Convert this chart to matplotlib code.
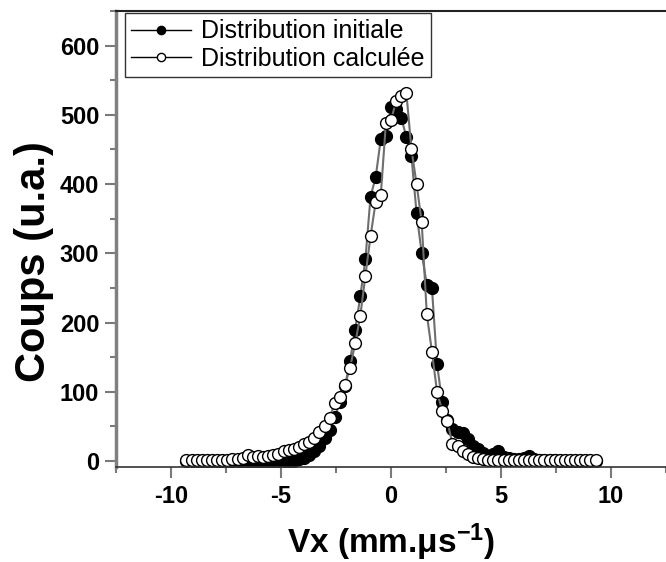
import matplotlib
matplotlib.use("Agg")
import matplotlib.pyplot as plt
import numpy as np

# velocity grid (mm/us), same for both distributions
vx = np.round(-9.3 + 0.2325 * np.arange(81), 4)

# counts, one value per grid point
initiale = [0, 0, 0, 0, 0, 0, 0, 0, 0, 0,
            0, 0, 0, 0, 0, 0, 0, 0, 0, 0,
            0, 0, 3, 5, 9, 15, 22, 33, 45, 63,
            85, 108, 145, 190, 238, 292, 382, 410, 465, 470,
            511, 508, 496, 468, 440, 358, 300, 255, 250, 140,
            85, 60, 47, 42, 40, 32, 22, 18, 12, 8,
            10, 14, 6, 4, 3, 3, 5, 8, 3, 2,
            1, 1, 1, 0, 0, 0, 0, 0, 0, 0, 0]

calculee = [1, 1, 1, 1, 1, 1, 1, 2, 2, 3,
            3, 4, 9, 6, 8, 6, 7, 9, 10, 14,
            16, 18, 20, 24, 27, 34, 42, 50, 62, 84,
            93, 110, 135, 170, 210, 268, 325, 374, 384, 488,
            492, 520, 527, 532, 450, 400, 345, 212, 158, 100,
            73, 58, 25, 22, 15, 10, 6, 4, 3, 2,
            2, 1, 1, 1, 1, 1, 1, 1, 1, 1,
            1, 1, 1, 1, 1, 1, 1, 1, 1, 1, 1]

plt.rcParams['font.family'] = ['Liberation Sans', 'DejaVu Sans']
plt.rcParams['axes.unicode_minus'] = False
plt.rcParams['mathtext.fontset'] = 'custom'
plt.rcParams['mathtext.rm'] = 'Liberation Sans:bold'
plt.rcParams['mathtext.it'] = 'Liberation Sans:bold'
plt.rcParams['mathtext.bf'] = 'Liberation Sans:bold'

fig = plt.figure(figsize=(6.66, 5.62), dpi=100)
ax = fig.add_axes([0.1742, 0.169, 0.8258, 0.8114])

ax.plot(vx, initiale, '-o', color='#6e6e6e', lw=1.5, ms=8.5,
        mfc='black', mec='black', mew=1, label='Distribution initiale')
ax.plot(vx, calculee, '-o', color='#6e6e6e', lw=1.5, ms=8.5,
        mfc='white', mec='black', mew=1, label='Distribution calculée')

ax.set_xlim(-12.48, 12.13)
ax.set_ylim(-8.6, 645.6)
ax.set_xticks([-10, -5, 0, 5, 10])
ax.set_xticks(np.arange(-12.5, 12.6, 2.5), minor=True)
ax.set_yticks(np.arange(0, 601, 100))
ax.set_yticks(np.arange(50, 651, 100), minor=True)

ax.tick_params(which='major', direction='out', length=8, width=1.5,
               color='#7a7a7a', labelsize=17, pad=4)
ax.tick_params(which='minor', direction='out', length=4, width=1.5,
               color='#7a7a7a')
ax.tick_params(axis='x', which='major', pad=5)
for lab in ax.get_xticklabels() + ax.get_yticklabels():
    lab.set_fontweight('bold')

ax.spines['right'].set_visible(False)
ax.spines['left'].set_color('#808080')
ax.spines['left'].set_linewidth(2.5)
ax.spines['bottom'].set_color('#333333')
ax.spines['bottom'].set_linewidth(1.2)
ax.spines['top'].set_color('#222222')
ax.spines['top'].set_linewidth(1.5)

ax.set_xlabel(r'Vx (mm.$\mu$s$^{-1}$)', fontsize=24,
              fontweight='bold', labelpad=10)
ax.set_ylabel('Coups (u.a.)', fontsize=30, fontweight='bold')
ax.yaxis.set_label_coords(-0.112, 0.45)

leg = ax.legend(loc='upper left', bbox_to_anchor=(0.016, 0.9956),
                borderaxespad=0, fontsize=18, frameon=True, fancybox=False,
                edgecolor='black', handlelength=2.4, handletextpad=0.4,
                borderpad=0.25, labelspacing=0.15, markerscale=0.7)
leg.get_frame().set_linewidth(1.0)
for h in leg.get_lines():
    h.set_color('black')
    h.set_linewidth(1.0)

fig.savefig('out.png', dpi=100)
